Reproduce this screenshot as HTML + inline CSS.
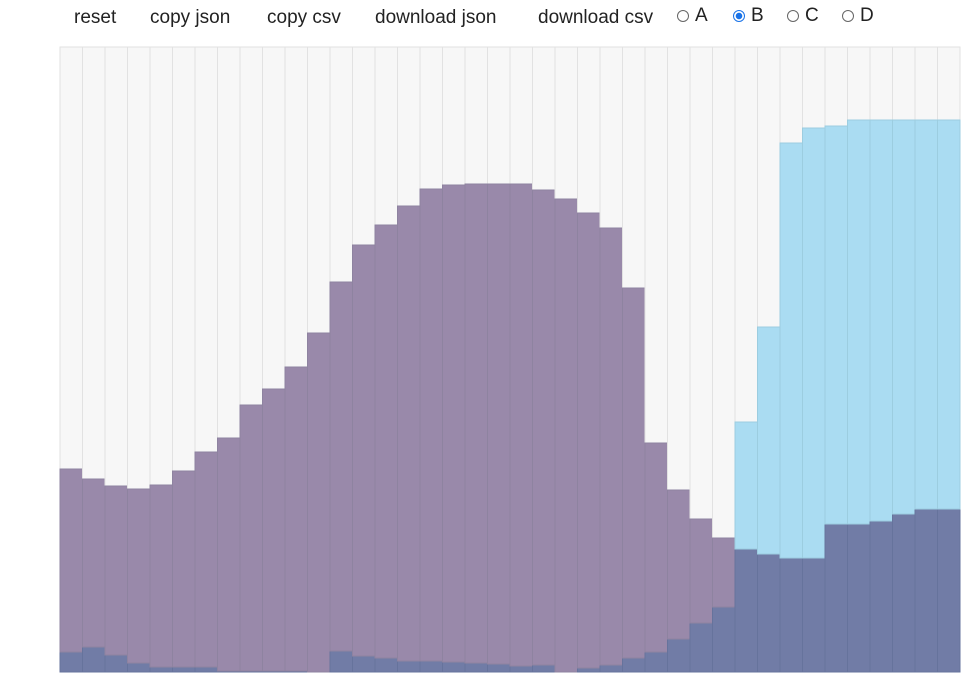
<!DOCTYPE html>
<html><head><meta charset="utf-8"><style>
body{margin:0;width:979px;height:675px;overflow:hidden;background:#fff;font-family:"Liberation Sans",sans-serif;}
.btn{position:absolute;top:7px;font-size:19px;color:#222;cursor:pointer;}
.radio{position:absolute;top:5px;font-size:19px;color:#222;display:flex;align-items:center;}
.radio span.c{display:inline-block;width:12px;height:12px;border:1px solid #666;border-radius:50%;margin-right:6px;box-sizing:border-box;}
.radio span.c.on{border:1px solid #1a73e8;background:radial-gradient(circle,#1a73e8 0 3px,#fff 3.5px 100%);border-width:1.5px;}
svg{position:absolute;left:0;top:0;}
</style></head><body>
<div class="btn" style="left:74px">reset</div>
<div class="btn" style="left:150px">copy json</div>
<div class="btn" style="left:267px">copy csv</div>
<div class="btn" style="left:375px">download json</div>
<div class="btn" style="left:538px">download csv</div>
<label class="radio" style="left:677px"><span class="c"></span>A</label>
<label class="radio" style="left:733px"><span class="c on"></span>B</label>
<label class="radio" style="left:787px"><span class="c"></span>C</label>
<label class="radio" style="left:842px"><span class="c"></span>D</label>
<svg id="chart" width="979" height="675"></svg>
<script>
const darkVals=[20,25,17,9,5,5,5,1,1,1,1,0,21,16,14,11,11,10,9,8,6,7,0,4,7,14,20,33,49,65,123,118,114,114,148,148,151,158,163,163];
const purpleVals=[183,168,169,174,182,196,215,233,266,282,304,339,369,411,433,455,472,477,479,480,482,475,473,455,437,370,209,149,104,69,0,0,0,0,0,0,0,0,0,0];
const lightVals=[0,0,0,0,0,0,0,0,0,0,0,0,0,0,0,0,0,0,0,0,0,0,0,0,0,0,0,0,0,0,127,227,415,430,398,404,401,394,389,389];
const yMax=625;
const X0=60,X1=960,Y0=672,Y1=47;
const n=darkVals.length,bw=(X1-X0)/n;
const xs=i=>X0+i*bw;
const ys=v=>Y0-(v/yMax)*(Y0-Y1);
const svg=document.getElementById('chart');
const NS='http://www.w3.org/2000/svg';
function rect(x,y,w,h,fill,stroke){const r=document.createElementNS(NS,'rect');r.setAttribute('x',x);r.setAttribute('y',y);r.setAttribute('width',w);r.setAttribute('height',Math.max(0,h));r.setAttribute('fill',fill);if(stroke){r.setAttribute('stroke',stroke);r.setAttribute('stroke-width',1);}svg.appendChild(r);return r;}
for(let i=0;i<n;i++){
  const bg=rect(xs(i),Y1,bw,Y0-Y1,'#f7f7f7','#e2e2e2');
  
  
  let base=0;
  const segs=[[darkVals[i],'#717ca6','#66739c','bar-series-1'],[purpleVals[i],'#9989aa','#8e83a0','bar-series-2'],[lightVals[i],'#aadcf2','#9ccde0','bar-series-3']];
  for(const [v,f,s,name] of segs){
    if(v>0){
      const r=rect(xs(i),ys(base+v),bw,ys(base)-ys(base+v),f,s);
      
      
    }
    base+=v;
  }
}
</script>
</body></html>
